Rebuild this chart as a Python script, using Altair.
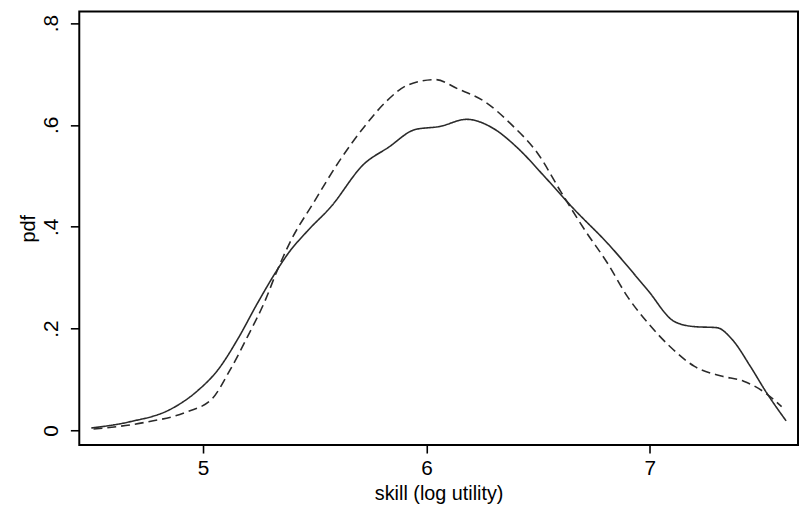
import altair as alt
import pandas as pd

# Solid curve (series A)
solid_x = [4.50, 4.67, 4.86, 4.97, 5.07, 5.16, 5.24, 5.33, 5.38, 5.47, 5.57, 5.72, 5.83, 5.95,
           6.06, 6.18, 6.30, 6.41, 6.53, 6.66, 6.81, 6.99, 7.11, 7.20, 7.30, 7.37, 7.45, 7.52, 7.61]
solid_y = [0.005, 0.017, 0.043, 0.076, 0.121, 0.183, 0.247, 0.314, 0.347, 0.393, 0.438, 0.523, 0.556, 0.591,
           0.597, 0.611, 0.593, 0.554, 0.498, 0.435, 0.368, 0.276, 0.214, 0.204, 0.202, 0.178, 0.126, 0.076, 0.019]

# Dashed curve (series B)
dashed_x = [4.51, 4.74, 4.93, 5.04, 5.12, 5.20, 5.28, 5.33, 5.39, 5.50, 5.61, 5.73, 5.82, 5.92,
            6.04, 6.14, 6.26, 6.38, 6.50, 6.60, 6.71, 6.81, 6.90, 6.99, 7.09, 7.20, 7.32, 7.42, 7.51, 7.59]
dashed_y = [0.003, 0.016, 0.037, 0.062, 0.118, 0.185, 0.257, 0.312, 0.370, 0.451, 0.529, 0.601, 0.646, 0.679,
            0.689, 0.671, 0.646, 0.601, 0.543, 0.470, 0.393, 0.329, 0.263, 0.212, 0.165, 0.126, 0.107, 0.097, 0.076, 0.047]

x_ticks = [5, 6, 7]
y_ticks = [0, 0.2, 0.4, 0.6, 0.8]

df = pd.concat([
    pd.DataFrame({"skill": solid_x, "pdf": solid_y, "series": "solid"}),
    pd.DataFrame({"skill": dashed_x, "pdf": dashed_y, "series": "dashed"}),
])

FONT = "Liberation Sans"

chart = alt.Chart(df).mark_line(interpolate="monotone", strokeWidth=1.6, color="#2a2a2a").encode(
    x=alt.X("skill:Q",
            scale=alt.Scale(domain=[4.4462, 7.6633], nice=False, zero=False),
            axis=alt.Axis(values=x_ticks, title="skill (log utility)", grid=False, domain=False,
                          tickColor="black", tickWidth=1.6, tickSize=8, labelPadding=5,
                          labelFont=FONT, labelFontSize=21, labelColor="black",
                          titleFont=FONT, titleFontSize=20, titleFontWeight="normal",
                          titleColor="black", titlePadding=5)),
    y=alt.Y("pdf:Q",
            scale=alt.Scale(domain=[-0.0286, 0.8227], nice=False, zero=False),
            axis=alt.Axis(values=y_ticks, title="pdf", grid=False, domain=False,
                          labelExpr="datum.value == 0 ? '0' : slice(format(datum.value, '.1f'), 1)",
                          labelAngle=-90, labelAlign="center", labelBaseline="bottom",
                          tickColor="black", tickWidth=1.6, tickSize=9, labelPadding=9,
                          labelFont=FONT, labelFontSize=21, labelColor="black",
                          titleFont=FONT, titleFontSize=20, titleFontWeight="normal",
                          titleColor="black", titlePadding=2)),
    strokeDash=alt.StrokeDash("series:N",
                              scale=alt.Scale(domain=["solid", "dashed"], range=[[1, 0], [9, 5]]),
                              legend=None),
    detail="series:N",
).properties(
    width=726,
    height=438,
    autosize=alt.AutoSizeParams(type="none"),
    padding={"left": 72, "top": 1, "right": 1, "bottom": 62},
).configure_view(
    stroke="black", strokeWidth=2
)

chart.save("out.html", embed_options={"renderer": "svg", "actions": False})
